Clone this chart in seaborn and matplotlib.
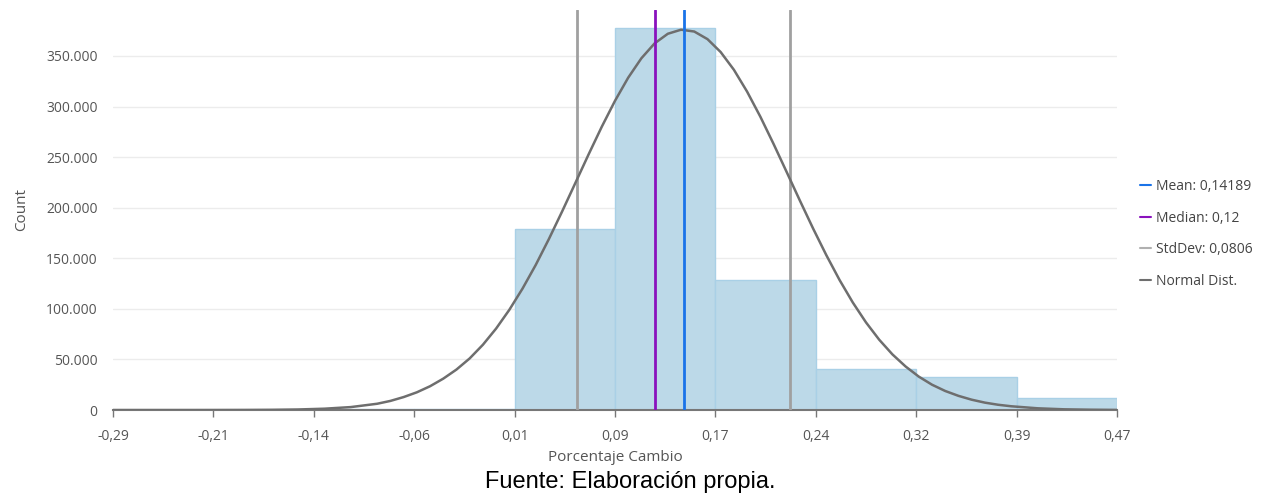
import numpy as np
import pandas as pd
import seaborn as sns
import matplotlib.pyplot as plt
from matplotlib.lines import Line2D

# --- data ---
bin_edges = [-0.29, -0.214, -0.138, -0.062, 0.014, 0.09, 0.166, 0.242, 0.318, 0.394, 0.47]
bin_counts = [0, 0, 700, 900, 179000, 377500, 128500, 40500, 32600, 11900]
x_tick_labels = ['-0,29', '-0,21', '-0,14', '-0,06', '0,01', '0,09', '0,17', '0,24', '0,32', '0,39', '0,47']
y_ticks = [0, 50000, 100000, 150000, 200000, 250000, 300000, 350000]
y_tick_labels = ['0', '50.000', '100.000', '150.000', '200.000', '250.000', '300.000', '350.000']

mean_val = 0.14189
median_val = 0.12
std_val = 0.0806

# normal curve
curve_x = [-0.29, -0.27, -0.25, -0.23, -0.21, -0.19, -0.17, -0.15, -0.13, -0.11,
           -0.09, -0.08, -0.07, -0.06, -0.05, -0.04, -0.03, -0.02, -0.01, 0.00,
           0.01, 0.02, 0.03, 0.04, 0.05, 0.06, 0.07, 0.08, 0.09, 0.10,
           0.11, 0.12, 0.13, 0.14, 0.15, 0.16, 0.17, 0.18, 0.19, 0.20,
           0.21, 0.22, 0.23, 0.24, 0.25, 0.26, 0.27, 0.28, 0.29, 0.30,
           0.31, 0.32, 0.33, 0.34, 0.35, 0.36, 0.37, 0.38, 0.39, 0.41,
           0.43, 0.45, 0.47]
curve_y = [0, 0, 0, 10, 30, 80, 210, 530, 1300, 2900,
           6200, 9000, 12800, 17500, 23500, 31000, 40000, 51000, 64500, 80500,
           99000, 120000, 143400, 169100, 196300, 224400, 252600, 280000, 305600, 328500,
           347700, 362400, 371900, 375900, 374100, 366600, 353800, 336300, 314700, 290000,
           263100, 235100, 206900, 179300, 153000, 128500, 106300, 86600, 69500, 55000,
           43000, 33000, 25000, 18800, 14000, 10200, 7300, 5200, 3700, 1700,
           700, 300, 100]

centers = [(a + b) / 2 for a, b in zip(bin_edges[:-1], bin_edges[1:])]
df = pd.DataFrame({'x': centers, 'count': bin_counts})
curve = pd.DataFrame({'x': curve_x, 'y': curve_y})

sns.set_style('white')
plt.rcParams['font.family'] = ['Open Sans', 'DejaVu Sans']

fig = plt.figure(figsize=(12.61, 4.94), dpi=100)
ax = fig.add_axes([0.0896, 0.170, 0.7962, 0.810])

sns.histplot(data=df, x='x', weights='count', bins=bin_edges, ax=ax,
             color='#bcd9e8', edgecolor='#a9d0e6', linewidth=1, alpha=1.0)
sns.lineplot(data=curve, x='x', y='y', ax=ax, color='#6e6e6e', linewidth=1.8, zorder=4)

ax.axvline(mean_val - std_val, color='#a0a0a0', linewidth=2, zorder=3)
ax.axvline(mean_val + std_val, color='#a0a0a0', linewidth=2, zorder=3)
ax.axvline(median_val, color='#8a12bd', linewidth=2, zorder=5)
ax.axvline(mean_val, color='#1a73e8', linewidth=2, zorder=5)

ax.set_xlim(-0.29, 0.47)
ax.set_ylim(0, 395500)
ax.set_xticks(bin_edges)
ax.set_xticklabels(x_tick_labels)
ax.set_yticks(y_ticks)
ax.set_yticklabels(y_tick_labels)
ax.tick_params(axis='both', labelsize=10, colors='#555555')
ax.tick_params(axis='x', length=5, width=1, color='#777777', direction='out',
               bottom=True, pad=9)
ax.tick_params(axis='y', length=0, pad=11)
ax.yaxis.grid(True, color='#ececec', linewidth=1)
ax.set_axisbelow(True)

for s in ['top', 'right', 'left']:
    ax.spines[s].set_visible(False)
ax.spines['bottom'].set_color('#777777')
ax.spines['bottom'].set_linewidth(1.5)

ax.set_xlabel('Porcentaje Cambio', fontsize=11, color='#555555', labelpad=4)
ax.set_ylabel('Count', fontsize=11, color='#555555', labelpad=12)

handles = [Line2D([], [], color='#1a73e8', lw=1.5),
           Line2D([], [], color='#8a12bd', lw=1.5),
           Line2D([], [], color='#b0b0b0', lw=1.5),
           Line2D([], [], color='#6e6e6e', lw=1.5)]
labels = ['Mean: 0,14189', 'Median: 0,12', 'StdDev: 0,0806', 'Normal Dist.']
leg = ax.legend(handles, labels, loc='center left', bbox_to_anchor=(1.01, 0.44),
                frameon=False, fontsize=10, handlelength=0.8, handletextpad=0.35,
                labelspacing=1.2, labelcolor='#444444')

fig.text(0.5, 0.025, 'Fuente: Elaboración propia.', ha='center', va='center',
         fontsize=17, color='black', family=['Liberation Sans', 'DejaVu Sans'])

fig.savefig('out.png', dpi=100)
